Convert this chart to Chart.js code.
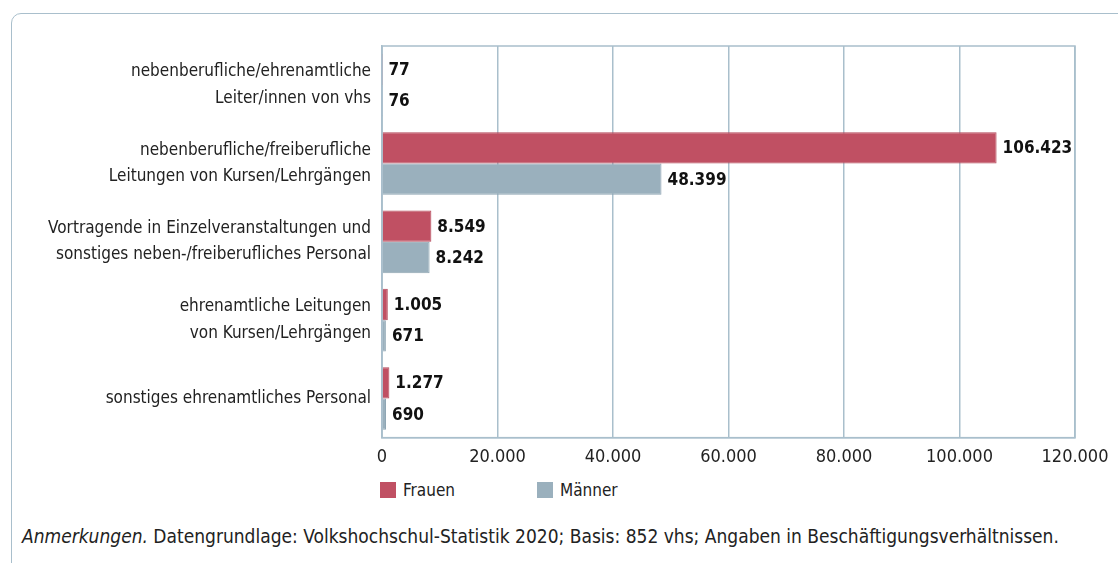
<!DOCTYPE html>
<html>
<head>
<meta charset="utf-8">
<script src="https://cdn.jsdelivr.net/npm/chart.js@4"></script>
<style>
  html, body { margin: 0; padding: 0; background: #fff; }
  body { width: 1118px; height: 563px; position: relative; overflow: hidden;
         font-family: "DejaVu Sans Condensed", "Noto Sans", sans-serif; color: #222; }
  .card { position: absolute; left: 11px; top: 13px; width: 1200px; height: 700px;
          border: 1.5px solid #a9bfcc; border-radius: 10px; }
  #wrap { position: absolute; left: 0; top: 0; width: 1118px; height: 475px; }
  .legend { position: absolute; top: 480px; font-size: 17px; display: flex; align-items: center; }
  .legend span.box { display: inline-block; width: 16px; height: 16px; margin-right: 7px; }
  .note { position: absolute; left: 22px; top: 525px; font-size: 19px; }
</style>
</head>
<body>
<div class="card"></div>
<div id="wrap"><canvas id="chart"></canvas></div>
<div class="legend" style="left:380px"><span class="box" style="background:#c05063"></span>Frauen</div>
<div class="legend" style="left:537px"><span class="box" style="background:#9ab0bd"></span>Männer</div>
<div class="note"><i>Anmerkungen.</i> Datengrundlage: Volkshochschul-Statistik 2020; Basis: 852 vhs; Angaben in Beschäftigungsverhältnissen.</div>
<script>
const categories = [
  ["nebenberufliche/ehrenamtliche", "Leiter/innen von vhs"],
  ["nebenberufliche/freiberufliche", "Leitungen von Kursen/Lehrgängen"],
  ["Vortragende in Einzelveranstaltungen und", "sonstiges neben-/freiberufliches Personal"],
  ["ehrenamtliche Leitungen", "von Kursen/Lehrgängen"],
  ["sonstiges ehrenamtliches Personal"]
];
const frauen = [77, 106423, 8549, 1005, 1277];
const maenner = [76, 48399, 8242, 671, 690];
const xTicks = [0, 20000, 40000, 60000, 80000, 100000, 120000];

const FONT = '"DejaVu Sans Condensed", "Noto Sans", sans-serif';
const GRID = "#a9bfcc";

function fmt(v) {
  return String(v).replace(/\B(?=(\d{3})+(?!\d))/g, ".");
}

const valueLabels = {
  id: "valueLabels",
  afterDatasetsDraw(chart) {
    const ctx = chart.ctx;
    ctx.save();
    ctx.font = "bold 17px " + FONT;
    ctx.fillStyle = "#111";
    ctx.textBaseline = "middle";
    ctx.textAlign = "left";
    chart.data.datasets.forEach((ds, i) => {
      chart.getDatasetMeta(i).data.forEach((bar, j) => {
        ctx.fillText(fmt(ds.data[j]), bar.x + 6, bar.y + 1);
      });
    });
    ctx.restore();
  }
};

const areaBorder = {
  id: "areaBorder",
  beforeDatasetsDraw(chart) {
    const { ctx, chartArea: a } = chart;
    ctx.save();
    ctx.strokeStyle = GRID;
    ctx.lineWidth = 1.5;
    ctx.strokeRect(a.left, a.top, a.right - a.left, a.bottom - a.top);
    ctx.restore();
  }
};

new Chart(document.getElementById("chart"), {
  type: "bar",
  data: {
    labels: categories,
    datasets: [
      { label: "Frauen", data: frauen, backgroundColor: "#c05063", borderColor: "#b4485a", borderWidth: 1 },
      { label: "Männer", data: maenner, backgroundColor: "#9ab0bd", borderColor: "#8ea5b3", borderWidth: 1 }
    ]
  },
  options: {
    indexAxis: "y",
    responsive: true,
    maintainAspectRatio: false,
    animation: false,
    layout: { padding: { top: 46, right: 43, left: 0, bottom: 0 } },
    datasets: { bar: { categoryPercentage: 0.8, barPercentage: 1 } },
    plugins: { legend: { display: false }, tooltip: { enabled: false } },
    scales: {
      x: {
        min: 0, max: 120000,
        afterBuildTicks: (s) => { s.ticks = xTicks.map((v) => ({ value: v })); },
        afterFit: (s) => { s.height = 36; },
        grid: { color: GRID, lineWidth: 1.5, drawTicks: false },
        border: { color: GRID, width: 1.5 },
        ticks: {
          padding: 9,
          color: "#222",
          font: { family: FONT, size: 18 },
          callback: (v) => fmt(v)
        }
      },
      y: {
        afterFit: (s) => { s.width = 382; },
        grid: { display: false, drawTicks: false },
        border: { color: GRID, width: 1.5 },
        ticks: {
          padding: 11,
          color: "#222",
          font: { family: FONT, size: 17, lineHeight: 1.55 }
        }
      }
    }
  },
  plugins: [areaBorder, valueLabels]
});
</script>
</body>
</html>
